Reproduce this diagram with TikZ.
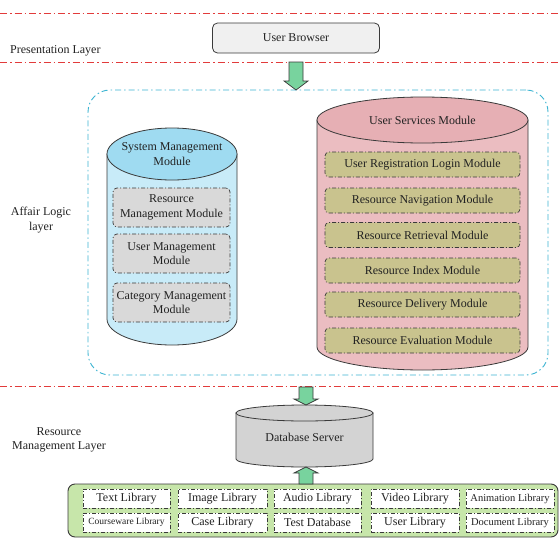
\documentclass[tikz,border=0pt]{standalone}
\usepackage{fontspec}
\setmainfont{Liberation Serif}
\usetikzlibrary{calc}
\definecolor{redln}{HTML}{E23B3B}
\definecolor{blueln}{HTML}{3DB5D2}
\definecolor{arrgreen}{HTML}{78D39E}
\definecolor{cylbody}{HTML}{C8EBF8}
\definecolor{cyltop}{HTML}{9FDBF1}
\definecolor{graybox}{HTML}{D9D9D9}
\definecolor{pinkbody}{HTML}{EBBDC1}
\definecolor{pinktop}{HTML}{E6AFB4}
\definecolor{olivebox}{HTML}{C9C38E}
\definecolor{dbgray}{HTML}{D3D3D3}
\definecolor{libgreen}{HTML}{C7E6AA}
\definecolor{browserfill}{HTML}{F0F0F0}
\definecolor{edgecol}{HTML}{3A3A3A}
\definecolor{txtcol}{HTML}{222222}
\newcommand{\cylshape}[7]{%
  \filldraw[cylline, fill=#6] (#1-#2,#3) -- (#1-#2,#4) arc[start angle=180, end angle=360, x radius=#2pt, y radius=#5pt] -- (#1+#2,#3) -- cycle;
  \filldraw[cylline, fill=#7] (#1,#3) ellipse[x radius=#2pt, y radius=#5pt];}
\newcommand{\blockarr}[4]{%
  \filldraw[arrowst] (#1-7,#2) -- (#1+7,#2) -- (#1+7,{#3-(#4)}) -- (#1+12,{#3-(#4)}) -- (#1,#3) -- (#1-12,{#3-(#4)}) -- (#1-7,{#3-(#4)}) -- cycle;}
\begin{document}
\begin{tikzpicture}[x=1pt,y=-1pt,
  every node/.style={text=txtcol},
  font=\fontsize{12}{14.5}\selectfont,
  layerline/.style={redln, line width=0.9pt, dash pattern=on 7pt off 3pt on 1.5pt off 3pt},
  logicbox/.style={draw=blueln, line width=0.9pt, dash pattern=on 6pt off 3pt on 1.5pt off 3pt, rounded corners=22pt, minimum width=460pt, minimum height=285pt},
  ddbox/.style={draw=edgecol, line width=0.7pt, dash pattern=on 4pt off 2pt on 1pt off 2pt, rounded corners=4pt, inner sep=0pt, align=center},
  smbox/.style={ddbox, fill=graybox, minimum width=117pt, minimum height=39pt},
  usbox/.style={ddbox, fill=olivebox, minimum width=195pt, minimum height=25pt},
  libbox/.style={ddbox, fill=white, rounded corners=0pt, minimum height=19pt},
  cylline/.style={draw=edgecol, line width=0.8pt},
  arrowst/.style={draw=edgecol, line width=0.7pt, fill=arrgreen},
  txt/.style={align=center, inner sep=0pt}
]
\useasboundingbox (0,0) rectangle (560,541);
\fill[white] (0,0) rectangle (560,541);

% layer separators
\draw[layerline] (0,13) -- (560,13);
\draw[layerline] (0,62) -- (560,62);
\draw[layerline] (0,386) -- (560,386);

% presentation layer
\node[txt, anchor=west] (pl) at (10,51) {Presentation Layer};
\node[draw=edgecol, line width=0.8pt, fill=browserfill, rounded corners=5pt, minimum width=167pt, minimum height=30pt] (ub) at (296,38) {User Browser};

% affair logic layer
\node[logicbox] (logic) at (318,232.5) {};
\node[txt] (al) at (41,220) {Affair Logic\\layer};

% system management cylinder
\cylshape{172}{65}{154}{319}{26}{cylbody}{cyltop}
\node[txt] (smm) at (172,154) {System Management\\Module};
\node[smbox] (rmm) at (171.5,207.5) {Resource\\Management Module};
\node[smbox] (umm) at (171.5,253.5) {User Management\\Module};
\node[smbox] (cmm) at (171.5,302.5) {Category Management\\Module};

% user services cylinder
\cylshape{422.5}{105.5}{120}{347}{23}{pinkbody}{pinktop}
\node[txt] (usm) at (422.5,120) {User Services Module};
\node[usbox] (url) at (422.5,164.5) {User Registration Login Module};
\node[usbox] (rnm) at (422.5,200.5) {Resource Navigation Module};
\node[usbox] (rrm) at (422.5,235) {Resource Retrieval Module};
\node[usbox] (rim) at (422.5,270.5) {Resource Index Module};
\node[usbox] (rdm) at (422.5,304.5) {Resource Delivery Module};
\node[usbox] (rem) at (422.5,340.5) {Resource Evaluation Module};

% resource management layer
\node[txt] (rml) at (59,440) {Resource\\Management Layer};
\cylshape{304.5}{68.5}{413}{459}{8}{dbgray}{dbgray}
\node[txt] (db) at (304.5,437) {Database Server};

% libraries
\node[draw=edgecol, fill=libgreen, rounded corners=7pt, line width=0.9pt, minimum width=490pt, minimum height=53pt] (lib) at (313,510.5) {};
\node[libbox, minimum width=87pt] (l1) at (126.5,498.5) {Text Library};
\node[libbox, minimum width=89pt] (l2) at (222.5,498.5) {Image Library};
\node[libbox, minimum width=87pt] (l3) at (317.5,498.5) {Audio Library};
\node[libbox, minimum width=88pt] (l4) at (415,498.5) {Video Library};
\node[libbox, minimum width=88pt, font=\fontsize{10.5}{12}\selectfont] (l5) at (510,498.5) {Animation Library};
\node[libbox, minimum width=87pt, font=\fontsize{9.5}{11}\selectfont] (l6) at (126.5,522.5) {Courseware Library};
\node[libbox, minimum width=89pt] (l7) at (222.5,522.5) {Case Library};
\node[libbox, minimum width=87pt] (l8) at (317.5,522.5) {Test Database};
\node[libbox, minimum width=88pt] (l9) at (415,522.5) {User Library};
\node[libbox, minimum width=88pt, font=\fontsize{10.5}{12}\selectfont] (l10) at (510,522.5) {Document Library};

% block arrows
\blockarr{296}{62}{90}{9}
\blockarr{306}{387}{405}{6}
\blockarr{306}{484}{467}{-6}
\end{tikzpicture}
\end{document}
